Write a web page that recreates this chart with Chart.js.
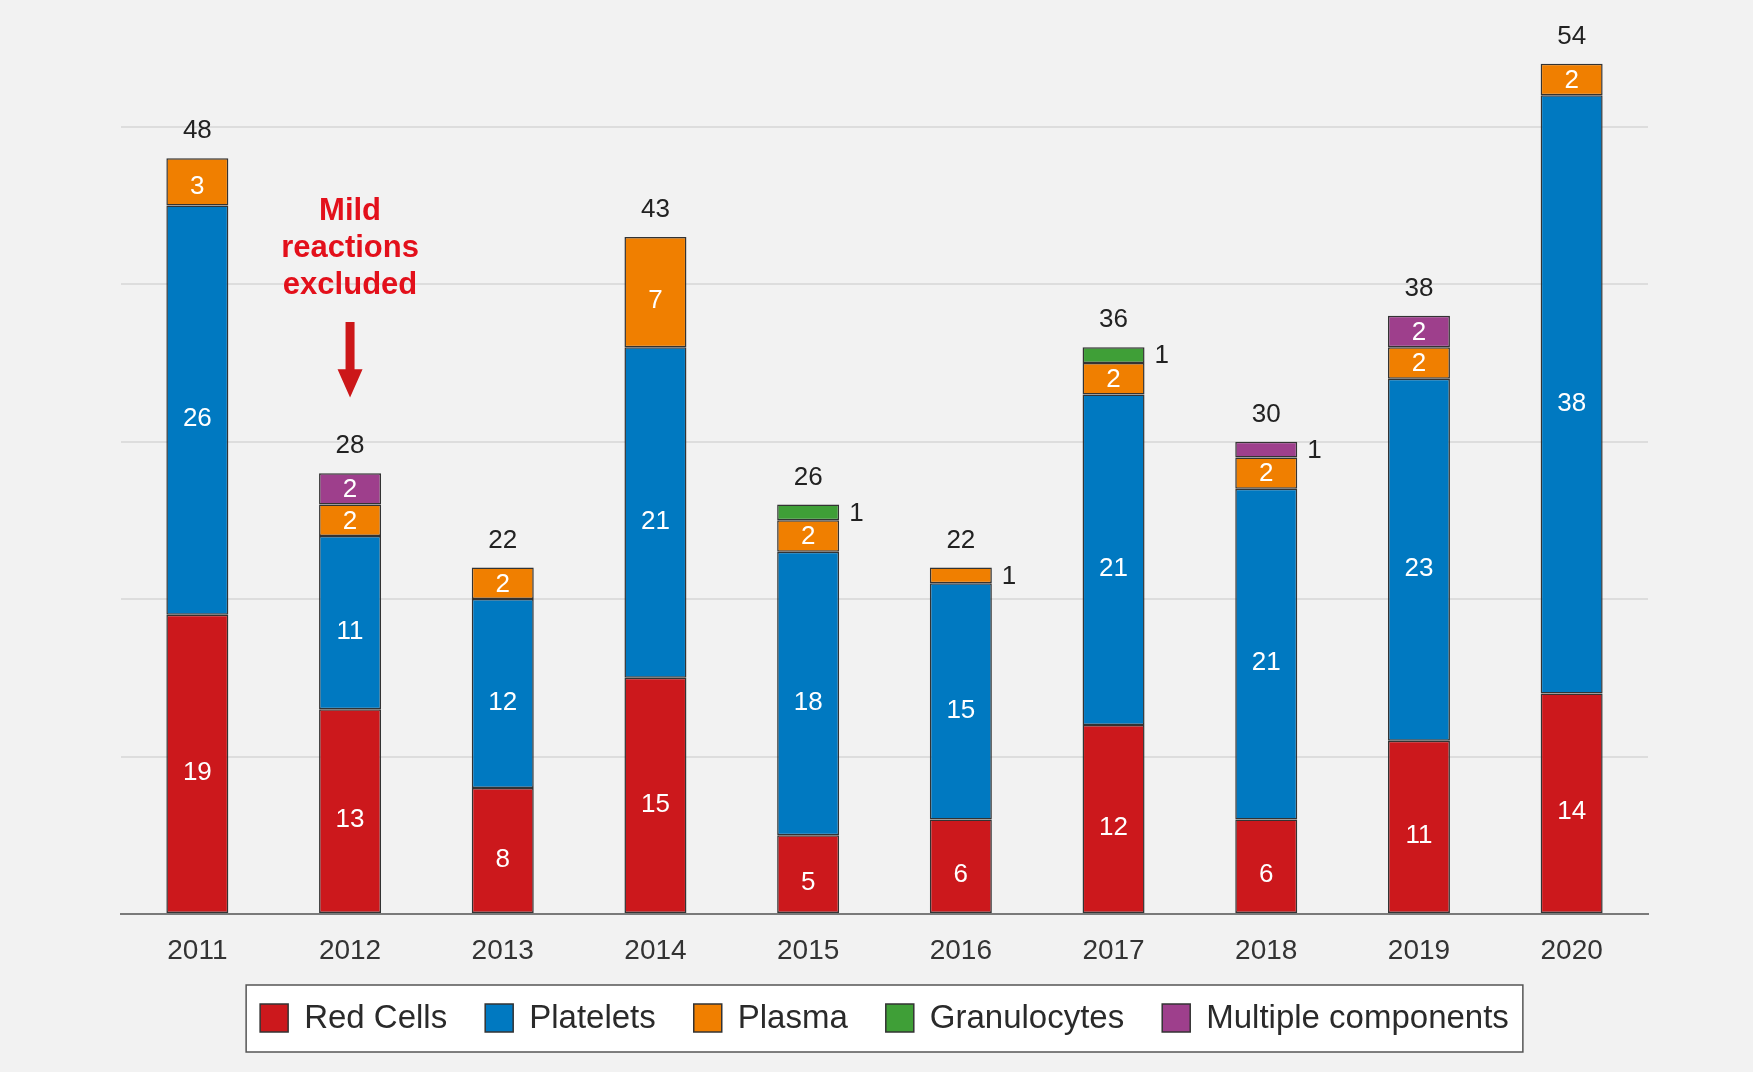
<!DOCTYPE html>
<html>
<head>
<meta charset="utf-8">
<script src="https://cdn.jsdelivr.net/npm/chart.js@4/dist/chart.umd.min.js"></script>
<style>
  html, body { margin: 0; padding: 0; background: #f2f2f2; }
  #wrap { width: 1753px; height: 1072px; position: relative; }
</style>
</head>
<body>
<div id="wrap"><canvas id="myChart" width="1753" height="1072"></canvas></div>
<script>
const years = ["2011", "2012", "2013", "2014", "2015", "2016", "2017", "2018", "2019", "2020"];
const redCells = [19, 13, 8, 15, 5, 6, 12, 6, 11, 14];
const platelets = [26, 11, 12, 21, 18, 15, 21, 21, 23, 38];
const plasma = [3, 2, 2, 7, 2, 1, 2, 2, 2, 2];
const granulocytes = [0, 0, 0, 0, 1, 0, 1, 0, 0, 0];
const multiple = [0, 2, 0, 0, 0, 0, 0, 1, 2, 0];
const totals = [48, 28, 22, 43, 26, 22, 36, 30, 38, 54];

const RED = "#cc181c";
const BLUE = "#0079c1";
const ORANGE = "#f07f00";
const GREEN = "#3f9f37";
const PURPLE = "#9e3f8c";
const EDGE = "#333333";
const FONT = "'Liberation Sans', Arial, sans-serif";

// note over 2012, given in axis units
const noteLines = ["Mild", "reactions", "excluded"];
const noteYears = 1;

function makeSet(label, data, color) {
    return {
        label: label,
        data: data,
        backgroundColor: color,
        borderColor: EDGE,
        borderWidth: ctx => ctx.raw ? 1.5 : 0,
        borderSkipped: false,
        categoryPercentage: 1,
        barPercentage: 0.406
    };
}

// white numbers inside the segments, small ones go to the right, totals on top
const segmentLabels = {
    id: 'segmentLabels',
    afterDatasetsDraw(chart) {
        const { ctx } = chart;
        ctx.save();
        ctx.font = `26px ${FONT}`;
        ctx.textBaseline = 'middle';
        let tops = [];
        chart.data.datasets.forEach((ds, i) => {
            chart.getDatasetMeta(i).data.forEach((bar, j) => {
                const v = ds.data[j];
                if (!v) return;
                const h = bar.base - bar.y;
                // taller segments have their number a little below the middle
                const drop = Math.min(8, Math.max(0, (h - 31) * 0.27));
                const midY = (bar.y + bar.base) / 2 + drop;
                if (tops[j] === undefined || bar.y < tops[j]) tops[j] = bar.y;
                if (v == 1) {
                    ctx.fillStyle = "#222222";
                    ctx.textAlign = 'left';
                    ctx.fillText(v, bar.x + bar.width / 2 + 10, midY + 1);
                } else {
                    ctx.fillStyle = "#ffffff";
                    ctx.textAlign = 'center';
                    ctx.fillText(v, bar.x, midY + 1);
                }
            });
        });
        ctx.fillStyle = "#222222";
        ctx.textAlign = 'center';
        const meta = chart.getDatasetMeta(0);
        totals.forEach((t, j) => {
            ctx.fillText(t, meta.data[j].x, tops[j] - 27);
        });
        ctx.restore();
    }
};

// red note with the arrow
const notePlugin = {
    id: 'notePlugin',
    afterDraw(chart) {
        const { ctx, scales: { x, y } } = chart;
        const cx = x.getPixelForValue(noteYears);
        ctx.save();
        ctx.fillStyle = "#e3101b";
        ctx.font = `bold 31px ${FONT}`;
        ctx.textAlign = 'center';
        ctx.textBaseline = 'middle';
        [44.6, 42.25, 39.9].forEach((v, i) => {
            ctx.fillText(noteLines[i], cx, y.getPixelForValue(v));
        });
        const shaftTop = y.getPixelForValue(37.6);
        const headTop = y.getPixelForValue(34.6);
        const tip = y.getPixelForValue(32.8);
        ctx.fillStyle = "#cc1719";
        ctx.beginPath();
        ctx.moveTo(cx - 4.5, shaftTop);
        ctx.lineTo(cx + 4.5, shaftTop);
        ctx.lineTo(cx + 4.5, headTop);
        ctx.lineTo(cx + 12.5, headTop);
        ctx.lineTo(cx, tip);
        ctx.lineTo(cx - 12.5, headTop);
        ctx.lineTo(cx - 4.5, headTop);
        ctx.closePath();
        ctx.fill();
        ctx.restore();
    }
};

// boxed legend under the axis
const boxLegend = {
    id: 'boxLegend',
    afterDraw(chart) {
        const { ctx, chartArea: { left, right } } = chart;
        const box = 28, gap = 16, spacing = 38, margin = 14;
        const centerY = 1018;
        ctx.save();
        ctx.font = `33px ${FONT}`;
        const items = chart.data.datasets.map(ds => ({
            label: ds.label, color: ds.backgroundColor, w: ctx.measureText(ds.label).width
        }));
        let total = items.reduce((s, it) => s + box + gap + it.w, 0) + spacing * (items.length - 1);
        let startX = (left + right) / 2 - total / 2;
        ctx.fillStyle = "#ffffff";
        ctx.fillRect(startX - margin, centerY - 33, total + margin * 2, 67);
        ctx.strokeStyle = "#555555";
        ctx.lineWidth = 1.5;
        ctx.strokeRect(startX - margin, centerY - 33, total + margin * 2, 67);
        let px = startX;
        items.forEach(it => {
            ctx.fillStyle = it.color;
            ctx.fillRect(px, centerY - box / 2, box, box);
            ctx.strokeStyle = EDGE;
            ctx.lineWidth = 1.5;
            ctx.strokeRect(px, centerY - box / 2, box, box);
            ctx.fillStyle = "#2a2a2a";
            ctx.textAlign = 'left';
            ctx.textBaseline = 'middle';
            ctx.fillText(it.label, px + box + gap, centerY + 1);
            px += box + gap + it.w + spacing;
        });
        ctx.restore();
    }
};

new Chart("myChart", {
    type: 'bar',
    data: {
        labels: years,
        datasets: [
            makeSet("Red Cells", redCells, RED),
            makeSet("Platelets", platelets, BLUE),
            makeSet("Plasma", plasma, ORANGE),
            makeSet("Granulocytes", granulocytes, GREEN),
            makeSet("Multiple components", multiple, PURPLE)
        ]
    },
    options: {
        responsive: false,
        animation: false,
        layout: { padding: { left: 121, right: 105, top: 48, bottom: 78 } },
        scales: {
            x: {
                stacked: true,
                grid: { display: false, drawTicks: false },
                border: { display: true, color: "#7a7a7a", width: 2 },
                ticks: { color: "#333333", font: { family: FONT, size: 28 }, padding: 20 },
                afterFit: scale => { scale.height = 80; }
            },
            y: {
                stacked: true,
                min: 0,
                max: 55,
                display: true,
                ticks: { display: false, stepSize: 10 },
                border: { display: false },
                grid: {
                    drawTicks: false,
                    lineWidth: 2,
                    color: ctx => (ctx.tick && ctx.tick.value > 0 && ctx.tick.value % 10 == 0) ? "#dddddd" : "rgba(0,0,0,0)"
                },
                afterFit: scale => { scale.width = 0; }
            }
        },
        plugins: {
            legend: { display: false },
            tooltip: { enabled: false }
        }
    },
    plugins: [segmentLabels, notePlugin, boxLegend]
});
</script>
</body>
</html>
